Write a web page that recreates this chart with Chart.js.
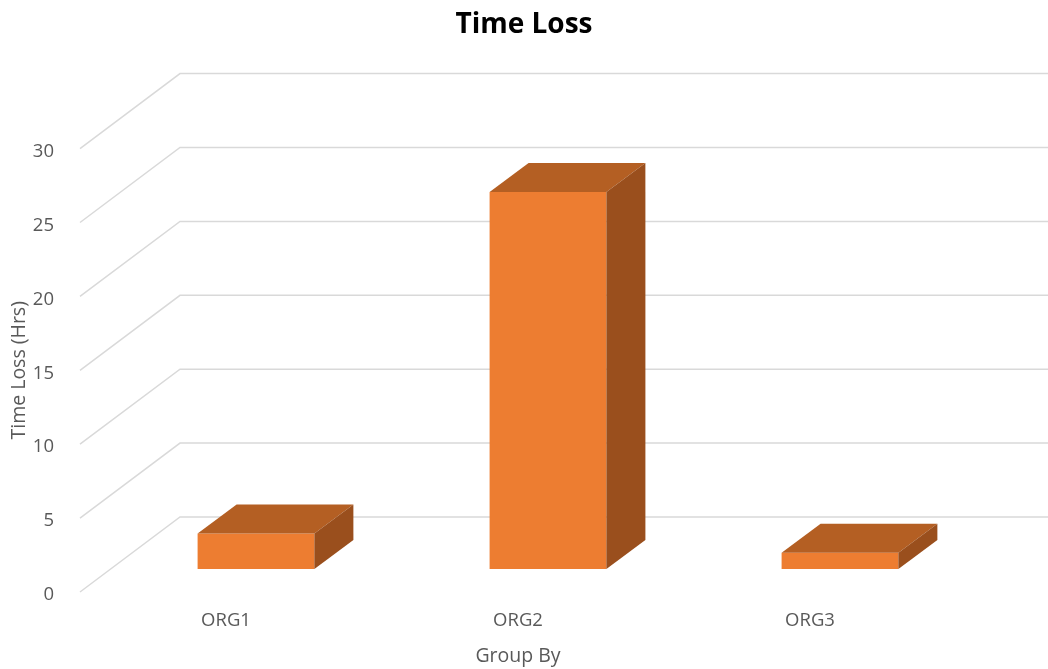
<!DOCTYPE html>
<html>
<head>
<meta charset="utf-8">
<script src="https://cdn.jsdelivr.net/npm/chart.js@4"></script>
<style>
  html, body { margin: 0; padding: 0; background: #fff; }
  #wrap { width: 1048px; height: 669px; }
</style>
</head>
<body>
<div id="wrap"><canvas id="lossChart"></canvas></div>
<script>
const categories = ["ORG1", "ORG2", "ORG3"];
const timeLoss = [2.4, 25.5, 1.1];
const yTicks = [0, 5, 10, 15, 20, 25, 30];

// fake 3d: wall depth, bar position inside the depth, bar depth
const wall = { dx: 100, dy: -75 };
const shift = { dx: 30, dy: -23 };
const depth = { dx: 39, dy: -29 };

const gridColor = "#d9d9d9";
const textColor = "#595959";

const walls3d = {
    id: "walls3d",
    beforeDatasetsDraw(chart){
        const ctx = chart.ctx;
        const y = chart.scales.y;
        const left = chart.chartArea.left;
        ctx.save();
        ctx.strokeStyle = gridColor;
        ctx.lineWidth = 1.5;
        yTicks.forEach(v => {
            const py = y.getPixelForValue(v);
            ctx.beginPath();
            ctx.moveTo(left, py);
            ctx.lineTo(left + wall.dx, py + wall.dy);
            ctx.lineTo(chart.width, py + wall.dy);
            ctx.stroke();
        });
        ctx.restore();
        ctx.save();
        ctx.translate(shift.dx, shift.dy);
    },
    afterDatasetsDraw(chart){
        const ctx = chart.ctx;
        ctx.restore();
        const bars = chart.getDatasetMeta(0).data;
        ctx.save();
        bars.forEach(bar => {
            const p = bar.getProps(["x", "y", "base", "width"], true);
            const x0 = p.x - p.width / 2 + shift.dx;
            const x1 = p.x + p.width / 2 + shift.dx;
            const top = p.y + shift.dy;
            const base = p.base + shift.dy;

            ctx.fillStyle = "#b45f23";
            ctx.beginPath();
            ctx.moveTo(x0, top);
            ctx.lineTo(x0 + depth.dx, top + depth.dy);
            ctx.lineTo(x1 + depth.dx, top + depth.dy);
            ctx.lineTo(x1, top);
            ctx.closePath();
            ctx.fill();

            ctx.fillStyle = "#9a4f1d";
            ctx.beginPath();
            ctx.moveTo(x1, top);
            ctx.lineTo(x1 + depth.dx, top + depth.dy);
            ctx.lineTo(x1 + depth.dx, base + depth.dy);
            ctx.lineTo(x1, base);
            ctx.closePath();
            ctx.fill();
        });
        ctx.restore();
    }
};

const lossChart = new Chart(
    document.getElementById("lossChart"),
    {
        type: "bar",
        data: {
            labels: categories,
            datasets: [{
                label: "Time Loss",
                data: timeLoss,
                backgroundColor: "#ed7d31",
                borderWidth: 0,
                barPercentage: 0.4,
                categoryPercentage: 1,
                clip: false
            }]
        },
        options: {
            responsive: true,
            maintainAspectRatio: false,
            animation: false,
            layout: { padding: { left: 0, right: 0, top: 0, bottom: 0 } },
            plugins: {
                legend: { display: false },
                tooltip: { enabled: false },
                title: {
                    display: true,
                    text: "Time Loss",
                    color: "#000",
                    font: { family: "Open Sans", size: 28, weight: "bold" },
                    padding: { top: 8, bottom: 107 }
                }
            },
            scales: {
                x: {
                    grid: { display: false },
                    border: { display: false },
                    ticks: {
                        color: textColor,
                        font: { family: "Open Sans", size: 18.5 },
                        padding: 10
                    },
                    title: {
                        display: true,
                        text: "Group By",
                        color: textColor,
                        font: { family: "Open Sans", size: 19.5 },
                        padding: { top: 0, bottom: 1 }
                    },
                    afterFit(s){ s.height = 77; }
                },
                y: {
                    min: 0,
                    max: 30,
                    grid: { display: false },
                    border: { display: false },
                    ticks: {
                        stepSize: 5,
                        color: textColor,
                        font: { family: "Open Sans", size: 18.5 },
                        padding: 18,
                        labelOffset: 3
                    },
                    title: {
                        display: true,
                        text: "Time Loss (Hrs)",
                        color: textColor,
                        font: { family: "Open Sans", size: 19.5 },
                        padding: { top: 8, bottom: 0 }
                    },
                    afterFit(s){ s.width = 80; }
                },
                yRight: {
                    position: "right",
                    display: true,
                    grid: { display: false },
                    border: { display: false },
                    ticks: { display: false },
                    afterFit(s){ s.width = 92; }
                }
            }
        },
        plugins: [walls3d]
    }
);
</script>
</body>
</html>
